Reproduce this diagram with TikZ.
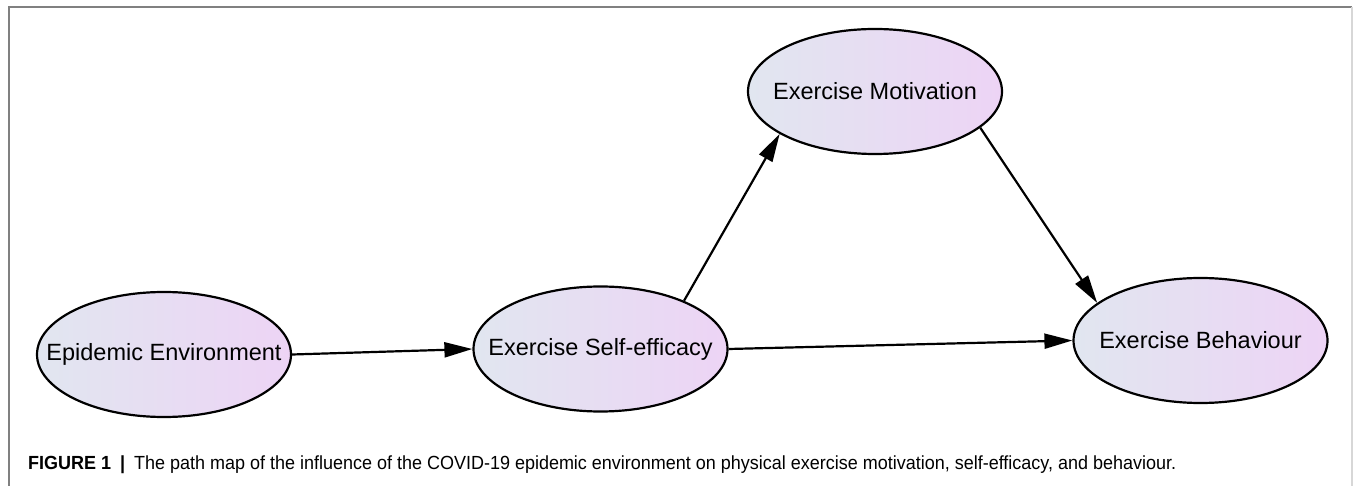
\documentclass[tikz,border=0pt]{standalone}
\usepackage{fontspec}
\setmainfont{Liberation Sans}
\usetikzlibrary{arrows.meta,shapes.geometric}
\definecolor{gradL}{RGB}{225,230,240}
\definecolor{gradR}{RGB}{237,212,245}
\definecolor{frameC}{RGB}{128,128,128}
\definecolor{frameR}{RGB}{215,215,215}
\newcommand\zerowd[1]{\makebox[0pt]{#1}}
\tikzset{
  latent/.style={ellipse, draw=black, line width=2.2pt, left color=gradL, right color=gradR,
    minimum width=254pt, minimum height=125pt, inner sep=0pt,
    font=\fontsize{23.5}{28}\selectfont},
  edge/.style={line width=2.2pt, -{Triangle[length=28pt,width=15pt]}},
}
\begin{document}
\begin{tikzpicture}[x=1pt,y=-1pt]
\useasboundingbox (0,0) rectangle (1355,486);
\draw[frameC, line width=1.5pt] (9,486) -- (9,7) -- (1352,7);
\draw[frameR, line width=1.5pt] (1352,7) -- (1352,486);
\node[latent] (ee)  at (164,354.5)  {\zerowd{Epidemic Environment}};
\node[latent] (se)  at (600.5,349)  {\zerowd{Exercise Self-efficacy}};
\node[latent] (mot) at (875,91.5)   {\zerowd{Exercise Motivation}};
\node[latent] (beh) at (1200.5,340.5) {\zerowd{Exercise Behaviour}};
\draw[edge] (ee.east) -- (se.west);
\draw[edge] (se.30) -- (mot.204);
\draw[edge] (se.east) -- (beh.west);
\draw[edge] (mot.-19) -- (beh.160);
\node[anchor=base west, inner sep=0pt] (cap) at (28,469.5)
  {\resizebox{1148pt}{\height}{\fontsize{19}{22}\selectfont\textbf{FIGURE 1}\hspace{0.5em}\textbf{|}\hspace{0.5em}The path map of the influence of the COVID-19 epidemic environment on physical exercise motivation, self-efficacy, and behaviour.}};
\end{tikzpicture}
\end{document}
